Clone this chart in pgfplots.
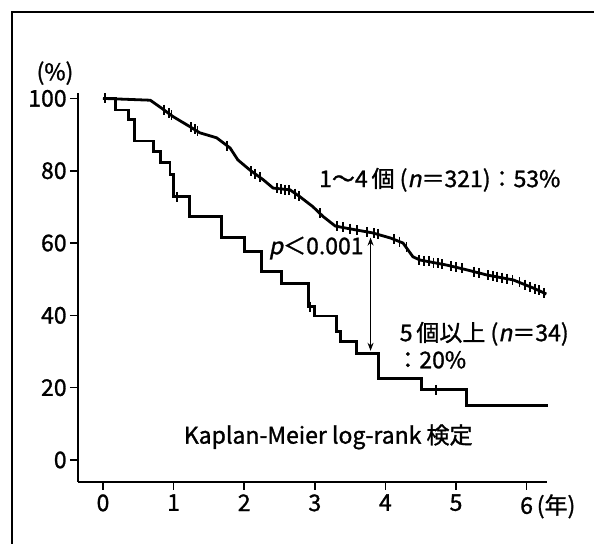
\documentclass[border=0pt]{standalone}
\usepackage{fontspec}
\setmainfont{Noto Sans CJK JP}[FakeBold=1.2]
\newfontfamily\slfont{Noto Sans CJK JP}[FakeSlant=0.2, FakeBold=1.2]
\usepackage{pgfplots}
\pgfplotsset{compat=1.18}
\usetikzlibrary{arrows.meta}
\begin{document}
\fontsize{11.5}{13.5}\selectfont
\begin{tikzpicture}
\useasboundingbox (0pt,0pt) rectangle (297pt,272pt);
\draw[line width=1pt] (5.75pt,0pt) -- (5.75pt,266pt) -- (297pt,266pt);
\begin{axis}[at={(39pt,31pt)}, anchor=south west, scale only axis,
  width=234.5pt, height=194.5pt,
  xmin=-0.354, xmax=6.289, ymin=-6.09, ymax=101.5,
  axis lines=left, axis line style={-, line width=1pt},
  xtick={0,1,2,3,4,5,6}, xticklabels={0,1,2,3,4,5,6\rlap{\,(年)}},
  ytick={0,20,40,60,80,100},
  tick align=outside, major tick length=4pt,
  tick style={line width=0.8pt, black},
  /pgf/number format/assume math mode=true,
  ticklabel style={font=\fontsize{11.5}{13}\selectfont},
  xticklabel style={inner sep=2pt},
  yticklabel style={inner sep=1.5pt},
  clip=false,
]
% 5個以上 (n=34)
\addplot[const plot, line width=1.4pt, black] coordinates {
 (0,100) (0.18,96.8) (0.36,94.1) (0.45,88.2) (0.71,85.3) (0.81,82.2)
 (0.95,79.0) (1.00,72.8) (1.23,67.4) (1.68,61.5) (2.01,57.6) (2.25,52.1)
 (2.53,48.9) (2.91,42.4) (3.00,39.8) (3.31,35.6) (3.36,32.7) (3.59,29.5)
 (3.90,22.6) (4.51,19.4) (5.15,15.0) (6.30,15.0)};
% 1~4個 (n=321)
\addplot[sharp plot, line width=1.4pt, black] coordinates {
 (0,100) (0.67,99.5) (0.83,97.3) (0.99,95.0) (1.23,92.2) (1.37,90.5)
 (1.61,89.1) (1.80,86.3) (1.91,83.0) (2.08,80.2) (2.27,77.5) (2.41,75.2)
 (2.65,74.7) (2.79,72.8) (2.97,70.1) (3.12,67.3) (3.29,64.7) (3.45,64.1)
 (3.82,62.8) (4.07,61.4) (4.25,60.0) (4.39,56.2) (4.49,55.3) (4.87,53.9)
 (5.15,52.6) (5.43,51.2) (5.81,49.8) (6.09,47.6) (6.28,45.9)};
% censored marks
\addplot[only marks, mark=|, mark size=2.5pt, mark options={line width=0.9pt, black}] coordinates {
 (0.03,100) (0.86,96.9) (0.93,96.0) (0.97,95.3)
 (1.25,92.0) (1.30,91.5) (1.34,91.0) (1.76,86.9)
 (2.10,79.9) (2.15,79.1) (2.22,78.2)
 (2.46,75.1) (2.52,75.0) (2.58,74.8) (2.64,74.7) (2.72,73.7) (2.78,73.0)
 (3.07,68.2) (3.32,64.6) (3.40,64.3) (3.50,64.0) (3.60,63.6)
 (3.74,63.1) (3.84,62.7) (3.90,62.5)
 (4.12,61.1) (4.20,60.4) (4.30,58.8)
 (4.48,55.4) (4.55,55.1) (4.62,54.9) (4.68,54.6) (4.75,54.4) (4.80,54.2)
 (4.93,53.7) (5.00,53.4) (5.08,53.0)
 (5.25,52.1) (5.33,51.7) (5.45,51.1) (5.52,50.9) (5.58,50.7) (5.65,50.4)
 (5.72,50.1) (5.80,49.8) (5.90,49.1) (5.98,48.5) (6.05,47.9) (6.12,47.4)
 (6.18,46.9) (6.25,46.2)
 (1.05,72.8) (2.93,42.4) (4.72,19.4)};
\draw[{Stealth[length=4pt,width=3pt]}-{Stealth[length=4pt,width=3pt]}, line width=0.6pt]
  (axis cs:3.79,61.5) -- (axis cs:3.79,30.2);
\node[inner sep=1pt] at (axis cs:-0.68,107) {(\%)};
\node at (axis cs:4.77,77.5) {1～4\,個 ({\slfont n}＝321)：53\%};
\node at (axis cs:3.02,58.6) {{\slfont p}＜0.001};
\node at (axis cs:5.40,34.9) {5\,個以上 ({\slfont n}＝34)};
\node[anchor=west, inner sep=0pt] at (axis cs:4.15,27.7) {：20\%};
\node at (axis cs:3.19,6.4) {Kaplan-Meier log-rank 検定};
\end{axis}
\end{tikzpicture}
\end{document}
